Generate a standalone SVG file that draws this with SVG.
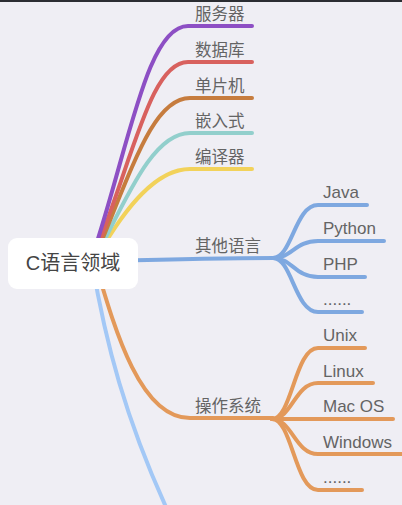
<svg xmlns="http://www.w3.org/2000/svg" width="402" height="505" viewBox="0 0 402 505">
<style>
.ln{fill:none;stroke-width:4;stroke-linecap:round;stroke-linejoin:round}
.t{font-family:"Liberation Sans","Noto Sans CJK SC",sans-serif;font-size:17px;fill:#646464}
.c{font-family:"Liberation Sans","Noto Sans CJK SC",sans-serif;font-size:16.5px;fill:#646464}
</style>
<rect width="402" height="505" fill="#efeef4"/>
<rect width="402" height="2" fill="#2b2d32"/>
<g id="connectors">
<path class="ln" stroke="#a3c8f6" d="M92,262 C105,340 125,420 172,520"/>
<path class="ln" stroke="#e3995a" d="M95,262 C115,330 140,418 190,418 H273"/>
<path class="ln" stroke="#7ea8e0" d="M110,261 C180,259 230,258 273,258"/>
<path class="ln" stroke="#f2d25a" d="M104,245 C125,210 155,169 190,169 H252"/>
<path class="ln" stroke="#92cfcc" d="M102,245 C130,190 155,133 190,133 H252"/>
<path class="ln" stroke="#c67c3e" d="M100,245 C135,160 155,98 190,98 H252"/>
<path class="ln" stroke="#d8615e" d="M98,245 C135,150 152,62 188,62 H252"/>
<path class="ln" stroke="#8d4fc4" d="M96,245 C130,140 148,26 188,26 H252"/>
<g stroke="#7ea8e0">
<path class="ln" d="M273,258 C292,258 295,205 318,205 H367"/>
<path class="ln" d="M273,258 C292,258 295,241 318,241 H384"/>
<path class="ln" d="M273,258 C292,258 295,277 318,277 H365"/>
<path class="ln" d="M273,258 C292,258 295,312 318,312 H362"/>
</g>
<g stroke="#e3995a">
<path class="ln" d="M272,419 C292,419 295,348 318,348 H365"/>
<path class="ln" d="M272,419 C292,419 295,383 318,383 H373"/>
<path class="ln" d="M272,419 H393"/>
<path class="ln" d="M272,419 C292,419 295,454 318,454 H402"/>
<path class="ln" d="M272,419 C292,419 295,490 318,490 H362"/>
</g>
</g>
<g id="root">
<rect x="8" y="238" width="130" height="51" rx="9" fill="#ffffff"/>
<text x="73" y="270" text-anchor="middle" font-family="Liberation Sans,'Noto Sans CJK SC',sans-serif" font-size="20" fill="#444">C语言领域</text>
</g>
<g id="n-server"><text class="c" x="195" y="20">服务器</text></g>
<g id="n-db"><text class="c" x="195" y="56">数据库</text></g>
<g id="n-mcu"><text class="c" x="195" y="92">单片机</text></g>
<g id="n-embedded"><text class="c" x="195" y="127">嵌入式</text></g>
<g id="n-compiler"><text class="c" x="195" y="163">编译器</text></g>
<g id="n-otherlang"><text class="c" x="195" y="252">其他语言</text></g>
<g id="n-java"><text class="t" x="323" y="198">Java</text></g>
<g id="n-python"><text class="t" x="323" y="234">Python</text></g>
<g id="n-php"><text class="t" x="323" y="270">PHP</text></g>
<g id="n-more1"><text class="t" x="323" y="305">......</text></g>
<g id="n-os"><text class="c" x="195" y="412">操作系统</text></g>
<g id="n-unix"><text class="t" x="323" y="341">Unix</text></g>
<g id="n-linux"><text class="t" x="323" y="377">Linux</text></g>
<g id="n-macos"><text class="t" x="323" y="412">Mac OS</text></g>
<g id="n-windows"><text class="t" x="323" y="448">Windows</text></g>
<g id="n-more2"><text class="t" x="323" y="483">......</text></g>
</svg>
